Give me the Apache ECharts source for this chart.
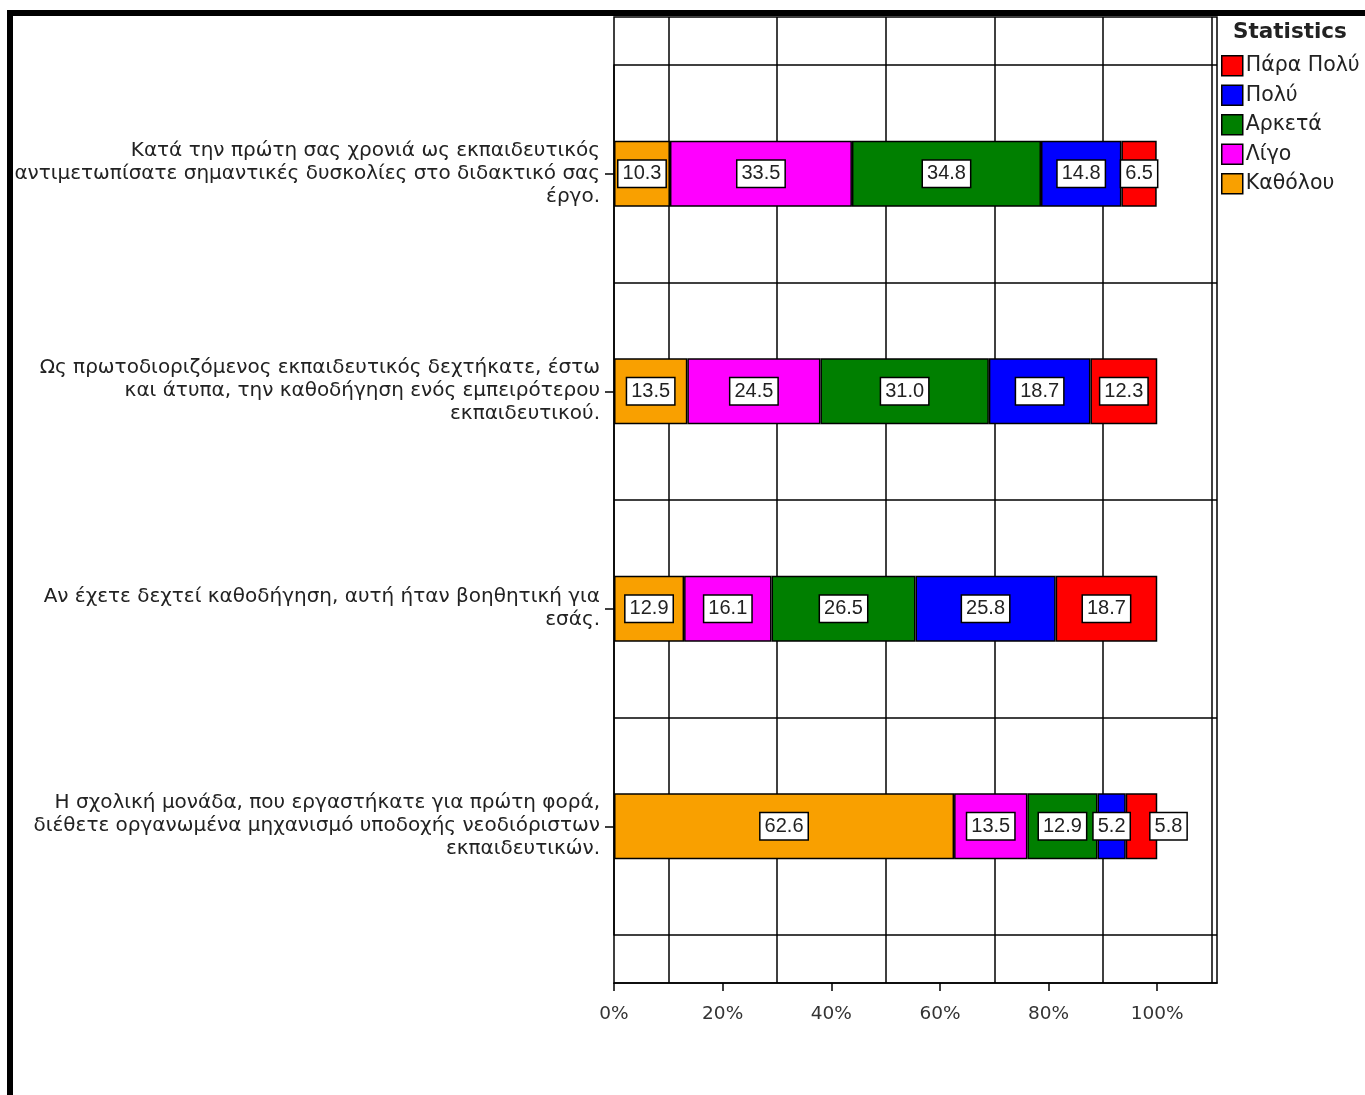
<!DOCTYPE html>
<html>
<head>
<meta charset="utf-8">
<script src="https://cdn.jsdelivr.net/npm/echarts@6/dist/echarts.min.js"></script>
<style>
html,body{margin:0;padding:0;background:#fff;}
#chart{width:1365px;height:1095px;}
</style>
</head>
<body>
<div id="chart"></div>
<script>
const categories = [
  'Κατά την πρώτη σας χρονιά ως εκπαιδευτικός\nαντιμετωπίσατε σημαντικές δυσκολίες στο διδακτικό σας\nέργο.',
  'Ως πρωτοδιοριζόμενος εκπαιδευτικός δεχτήκατε, έστω\nκαι άτυπα, την καθοδήγηση ενός εμπειρότερου\nεκπαιδευτικού.',
  'Αν έχετε δεχτεί καθοδήγηση, αυτή ήταν βοηθητική για\nεσάς.',
  'Η σχολική μονάδα, που εργαστήκατε για πρώτη φορά,\nδιέθετε οργανωμένα μηχανισμό υποδοχής νεοδιόριστων\nεκπαιδευτικών.'
];
const seriesNames = ['Καθόλου', 'Λίγο', 'Αρκετά', 'Πολύ', 'Πάρα Πολύ'];
const kathólou = [10.3, 13.5, 12.9, 62.6];
const ligo = [33.5, 24.5, 16.1, 13.5];
const arketa = [34.8, 31.0, 26.5, 12.9];
const poly = [14.8, 18.7, 25.8, 5.2];
const paraPoly = [6.5, 12.3, 18.7, 5.8];
const legendOrder = ['Πάρα Πολύ', 'Πολύ', 'Αρκετά', 'Λίγο', 'Καθόλου'];
const xTicks = [0, 20, 40, 60, 80, 100];

const seriesValues = [kathólou, ligo, arketa, poly, paraPoly];
const colors = ['#F9A000', '#FF00FF', '#007F00', '#0000FF', '#FF0000'];
const FONT = '"Liberation Sans", Arial, sans-serif';
const WIDE = '"DejaVu Sans", Verdana, sans-serif';
const K = '#000', T = 'rgba(0,0,0,0)';

const chart = echarts.init(document.getElementById('chart'), null, {renderer: 'canvas'});

const series = seriesNames.map((name, si) => ({
  name: name,
  type: 'bar',
  stack: 'total',
  xAxisIndex: 2,
  yAxisIndex: 1,
  barWidth: 66,
  itemStyle: {color: colors[si], borderColor: '#000', borderWidth: 1.5},
  label: {
    show: true,
    position: 'inside',
    formatter: p => Number(p.value).toFixed(1),
    backgroundColor: '#fff',
    borderColor: '#000',
    borderWidth: 1.5,
    padding: [4, 4, 2, 4],
    fontFamily: FONT,
    fontSize: 20,
    color: '#222'
  },
  data: seriesValues[si].map((v, ci) => {
    // last small red segment label is pushed right as in the original
    if (si === 4 && ci === 3) return {value: v, label: {offset: [27, 0]}};
    return v;
  })
}));

const option = {
  backgroundColor: '#fff',
  animation: false,
  title: {
    text: 'Statistics',
    left: 1233, top: 21, padding: 0,
    textStyle: {fontFamily: WIDE, fontSize: 21.5, fontWeight: 'bold', color: '#222'}
  },
  legend: {
    data: legendOrder,
    orient: 'vertical',
    left: 1221, top: 55,
    padding: 0,
    itemWidth: 21, itemHeight: 20, itemGap: 8,
    icon: 'rect',
    textStyle: {fontFamily: WIDE, fontSize: 20.5, lineHeight: 20, color: '#222', padding: [0, 0, 0, -2]},
    itemStyle: {borderColor: '#000', borderWidth: 1.5}
  },
  grid: [
    {left: 614, right: 148, top: 17, bottom: 112, show: true, borderColor: '#000', borderWidth: 1.5, backgroundColor: 'transparent'},
    {left: 614, right: 148, top: 65, bottom: 160}
  ],
  xAxis: [
    {
      type: 'value', gridIndex: 0, min: 0, max: 111, interval: 20,
      axisLine: {show: true, lineStyle: {color: '#000', width: 1.5}},
      axisTick: {show: true, length: 8, customValues: xTicks, lineStyle: {color: '#000', width: 1.5}},
      axisLabel: {
        margin: 22, fontFamily: WIDE, fontSize: 18.5, color: '#333',
        customValues: xTicks,
        formatter: v => v + '%'
      },
      splitLine: {show: false}
    },
    {
      type: 'value', gridIndex: 0, min: 0, max: 111, interval: 10,
      axisLine: {show: false}, axisTick: {show: false}, axisLabel: {show: false},
      splitLine: {show: true, showMinLine: false, showMaxLine: true,
        lineStyle: {color: [K, T, K, T, K, T, K, T, K, T, K, T], width: 1.5}}
    },
    {
      type: 'value', gridIndex: 1, min: 0, max: 111,
      show: false
    }
  ],
  yAxis: [
    {type: 'value', gridIndex: 0, min: 0, max: 1, show: false},
    {
      type: 'category', gridIndex: 1, inverse: true, data: categories,
      axisLine: {show: true, lineStyle: {color: '#000', width: 1.5}},
      axisTick: {show: true, alignWithLabel: true, length: 9, lineStyle: {color: '#000', width: 1.5}},
      axisLabel: {margin: 14, fontFamily: WIDE, fontSize: 20, lineHeight: 23, color: '#222', align: 'right', verticalAlign: 'middle', padding: [14, 0, 0, 0]},
      splitLine: {show: true, lineStyle: {color: '#000', width: 1.5}}
    }
  ],
  graphic: [
    {type: 'rect', silent: true, z: 100,
     shape: {x: 10, y: 13, width: 1500, height: 1300},
     style: {fill: 'none', stroke: '#000', lineWidth: 6}}
  ],
  series: series
};

chart.setOption(option);
</script>
</body>
</html>
